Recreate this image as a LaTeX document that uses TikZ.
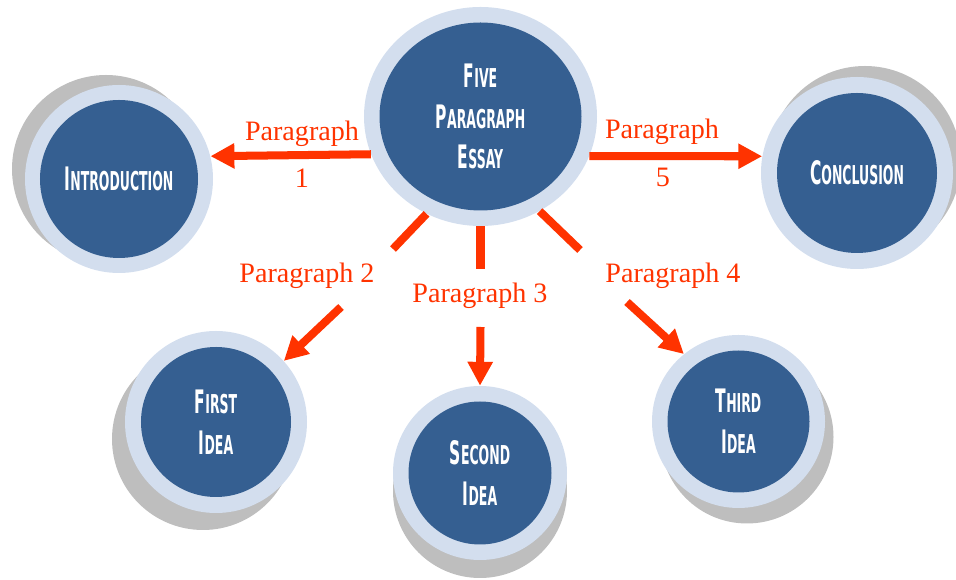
\documentclass[tikz,border=0pt]{standalone}
\usepackage{fontspec}
\usepackage{tikz}
\usetikzlibrary{arrows.meta,shapes.geometric}
\newfontfamily\agency[FakeStretch=0.48]{DejaVu Sans}
\newfontfamily\paraserif{Liberation Serif}
\definecolor{essayblue}{HTML}{355F91}
\definecolor{ringblue}{HTML}{D3DEEE}
\definecolor{dropgray}{HTML}{BEBEBE}
\definecolor{paraorange}{HTML}{FF3300}
\newcommand\capword[2]{{\fontsize{23}{29}\selectfont #1}#2}

\begin{document}
\begin{tikzpicture}[x=.25mm,y=-.25mm,
	ring/.style={circle,fill=ringblue,inner sep=0pt},
	core/.style={circle,fill=essayblue,text=white,inner sep=0pt,align=center,font=\agency\bfseries\fontsize{18.5}{29}\selectfont},
	drop/.style={circle,fill=dropgray,inner sep=0pt},
	para/.style={text=paraorange,font=\paraserif\fontsize{20}{22}\selectfont,anchor=base},
	arr/.style={draw=paraorange,line width=5.7pt},
	pointed/.style={-{Triangle[length=17pt,width=17pt]}}]
	    \useasboundingbox (0,0) rectangle (956,580);
	    \node[drop,minimum size=47mm] (intro-drop) at (106,169) {};
	    \node[ring,minimum size=47mm] (intro-ring) at (119,179) {};
	    \node[core,minimum size=39.5mm] (intro) at (119,179) {\capword{I}{NTRODUCTION}};
	    \node[drop,minimum size=48mm] (conclusion-drop) at (865,162) {};
	    \node[ring,minimum size=48mm] (conclusion-ring) at (857,173) {};
	    \node[core,minimum size=40mm] (conclusion) at (857,173) {\capword{C}{ONCLUSION}};
	    \node[drop,minimum size=45.5mm] (first-drop) at (203,439) {};
	    \node[ring,minimum size=45.5mm] (first-ring) at (216,422) {};
	    \node[core,minimum size=37.5mm] (first) at (216,422) {\capword{F}{IRST}\\\capword{I}{DEA}};
	    \node[drop,minimum size=43.5mm] (second-drop) at (480,491) {};
	    \node[ring,minimum size=43.5mm] (second-ring) at (480,473) {};
	    \node[core,minimum size=35.75mm] (second) at (480,473) {\capword{S}{ECOND}\\\capword{I}{DEA}};
	    \node[drop,minimum size=43.25mm] (third-drop) at (747,437) {};
	    \node[ring,minimum size=43.25mm] (third-ring) at (738.5,421.5) {};
	    \node[core,minimum size=35.5mm] (third) at (738.5,421.5) {\capword{T}{HIRD}\\\capword{I}{DEA}};
	    \node[ring,ellipse,minimum width=58.25mm,minimum height=54.75mm] (essay-ring) at (480.5,116.5) {};
	    \node[core,ellipse,minimum width=50.5mm,minimum height=47mm] (essay) at (480.5,116.5) {\capword{F}{IVE}\\\capword{P}{ARAGRAPH}\\\capword{E}{SSAY}};
	    \node[para] (p1-top) at (302,141) {Paragraph};
	    \node[para] (p1-num) at (302,188) {1};
	    \node[para] (p5-top) at (662,139) {Paragraph};
	    \node[para] (p5-num) at (663,187) {5};
	    \node[para] (p2) at (307,283) {Paragraph 2};
	    \node[para] (p3) at (480,303) {Paragraph 3};
	    \node[para] (p4) at (673,283) {Paragraph 4};
	    \coordinate (p2a) at (393,249);
	    \coordinate (p2b) at (341,307);
	    \coordinate (p3a) at (480.5,269);
	    \coordinate (p3b) at (480.5,327);
	    \coordinate (p4a) at (580,250);
	    \coordinate (p4b) at (627,302);
	    \draw[arr,pointed] (essay-ring.199) -- (intro-ring.14);
	    \draw[arr,pointed] (essay-ring.340) -- (conclusion-ring.170);
	    \draw[arr] (essay-ring.241) -- (p2a);
	    \draw[arr,pointed] (p2b) -- (first-ring.42);
	    \draw[arr] (essay-ring.south) -- (p3a);
	    \draw[arr,pointed] (p3b) -- (second-ring.north);
	    \draw[arr] (essay-ring.302) -- (p4a);
	    \draw[arr,pointed] (p4b) -- (third-ring.129);
	  \end{tikzpicture}
\end{document}
